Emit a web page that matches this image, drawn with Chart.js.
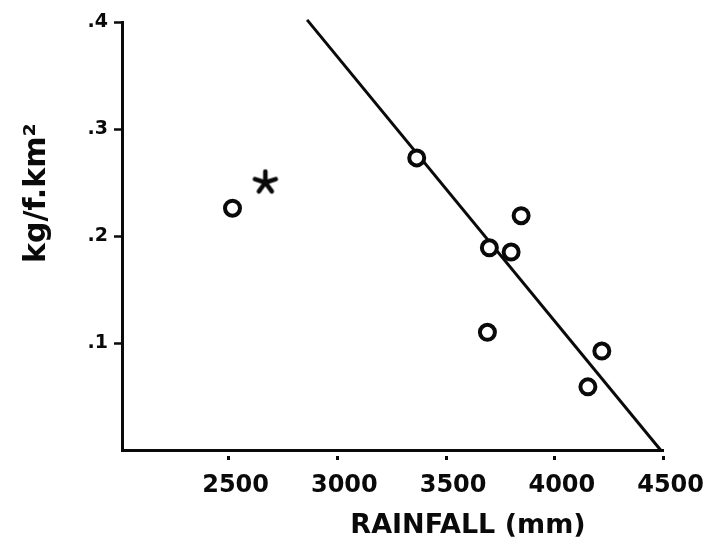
<!DOCTYPE html>
<html>
<head>
<meta charset="utf-8">
<script src="https://cdn.jsdelivr.net/npm/chart.js@4"></script>
<style>
  html, body { margin: 0; padding: 0; background: #fff; }
  canvas { display: block; }
</style>
</head>
<body>
<canvas id="c" width="708" height="538"></canvas>
<script>
// ---- data ----
const circleX = [2518, 3365, 3699, 3799, 3845, 3690, 4216, 4152];
const circleY = [0.226, 0.273, 0.189, 0.185, 0.219, 0.110, 0.0925, 0.059];
const starX = [2669];
const starY = [0.250];
const lineX = [2861, 4486];
const lineY = [0.402, 0.0];
const xTickValues = [2500, 3000, 3500, 4000, 4500];
const xTickLabels = ['2500', '3000', '3500', '4000', '4500'];
const yTickValues = [0.1, 0.2, 0.3, 0.4];
const yTickLabels = ['.1', '.2', '.3', '.4'];
const xTitle = 'RAINFALL (mm)';
const yTitle = 'kg/f.km\u00B2';

const INK = '#0a0a0a';
const FONT = '"DejaVu Sans", sans-serif';

// asterisk marker shape
function makeAsterisk() {
  const s = 30, c = document.createElement('canvas');
  c.width = s; c.height = s;
  const g = c.getContext('2d');
  g.strokeStyle = INK; g.lineWidth = 4.5; g.lineCap = 'round';
  const cx = s / 2, cy = s / 2, L = 11;
  for (let k = 0; k < 5; k++) {
    const a = (-90 + k * 72) * Math.PI / 180;
    g.beginPath(); g.moveTo(cx, cy);
    g.lineTo(cx + L * Math.cos(a), cy + L * Math.sin(a)); g.stroke();
  }
  return c;
}

const pts = (xs, ys) => xs.map((x, i) => ({ x: x, y: ys[i] }));

const bgPlugin = {
  id: 'bg',
  beforeDraw(chart) {
    const ctx = chart.ctx;
    ctx.save(); ctx.fillStyle = '#fff';
    ctx.fillRect(0, 0, chart.width, chart.height); ctx.restore();
  }
};

const titlesPlugin = {
  id: 'titles',
  afterDraw(chart) {
    const ctx = chart.ctx;
    ctx.save();
    ctx.fillStyle = INK;
    ctx.font = 'bold 27px ' + FONT;
    ctx.textAlign = 'center';
    ctx.textBaseline = 'alphabetic';
    ctx.fillText(xTitle, 468, 533);
    ctx.translate(45, 263);
    ctx.rotate(-Math.PI / 2);
    ctx.font = 'bold 30px ' + FONT;
    ctx.textAlign = 'left';
    ctx.fillText(yTitle, 0, 0);
    ctx.restore();
  }
};

new Chart(document.getElementById('c'), {
  type: 'scatter',
  data: {
    datasets: [
      {
        type: 'line',
        data: pts(lineX, lineY),
        borderColor: INK,
        borderWidth: 3,
        pointRadius: 0,
        fill: false,
        clip: false,
        order: 3
      },
      {
        data: pts(circleX, circleY),
        pointStyle: 'circle',
        pointRadius: 7.5,
        pointBorderWidth: 4,
        pointBorderColor: INK,
        pointBackgroundColor: '#fff',
        order: 1
      },
      {
        data: pts(starX, starY),
        pointStyle: makeAsterisk(),
        pointRadius: 12,
        order: 2
      }
    ]
  },
  options: {
    responsive: false,
    animation: false,
    devicePixelRatio: 1,
    layout: { padding: { left: 0, right: 42, top: 22, bottom: 0 } },
    plugins: { legend: { display: false }, tooltip: { enabled: false } },
    scales: {
      x: {
        type: 'linear',
        min: 2010,
        max: 4500,
        afterBuildTicks: s => { s.ticks = xTickValues.map(v => ({ value: v })); },
        afterFit: s => { s.height = 88; },
        border: { display: true, color: INK, width: 3 },
        grid: {
          display: true, drawOnChartArea: false, drawTicks: true,
          tickLength: 10, tickWidth: 3, tickColor: INK,
          tickBorderDash: [0, 4, 5, 100]
        },
        ticks: {
          color: INK,
          font: { family: FONT, size: 24, weight: 'bold' },
          padding: 11,
          labelOffset: 7,
          maxRotation: 0,
          callback: (v) => xTickLabels[xTickValues.indexOf(v)]
        },
        title: { display: false }
      },
      y: {
        type: 'linear',
        min: 0,
        max: 0.4,
        afterBuildTicks: s => { s.ticks = yTickValues.map(v => ({ value: v })); },
        afterFit: s => { s.width = 122; },
        border: { display: true, color: INK, width: 3 },
        grid: {
          display: true, drawOnChartArea: false, drawTicks: true,
          tickLength: 11, tickWidth: 2.5, tickColor: INK,
          tickBorderDash: [0, 3, 7, 100]
        },
        ticks: {
          color: INK,
          font: { family: FONT, size: 19, weight: 'bold' },
          padding: 3,
          callback: (v) => yTickLabels[yTickValues.indexOf(v)]
        },
        title: { display: false }
      }
    }
  },
  plugins: [bgPlugin, titlesPlugin]
});
</script>
</body>
</html>
